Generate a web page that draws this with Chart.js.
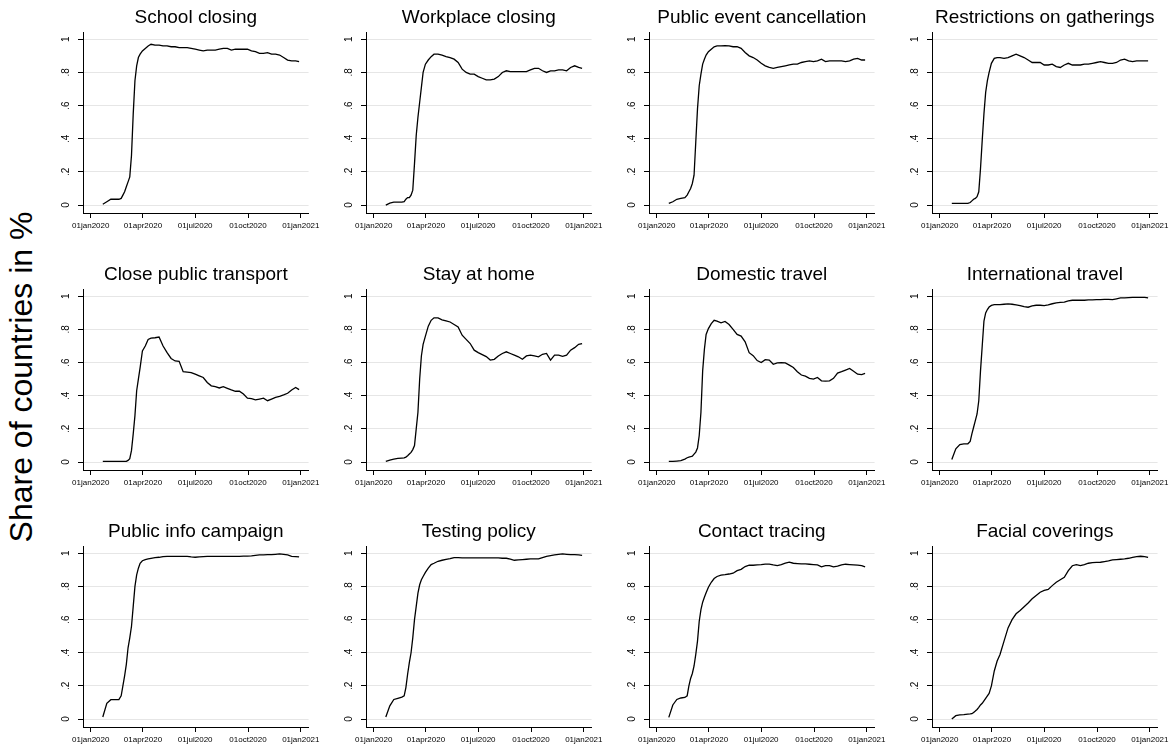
<!DOCTYPE html>
<html>
<head>
<meta charset="utf-8">
<script src="https://cdn.jsdelivr.net/npm/chart.js@4.4.1/dist/chart.umd.min.js"></script>
<style>
  html, body { margin: 0; padding: 0; background: #fff; overflow: hidden; }
  #page { position: relative; width: 1173px; height: 745px; }
  .panel { position: absolute; width: 280px; height: 240px; }
  #ytitle {
    position: absolute; left: 21px; top: 377px;
    transform: translate(-50%, -50%) rotate(-90deg);
    font: 32px "Liberation Sans", Arial, sans-serif; color: #000; white-space: nowrap;
  }
</style>
</head>
<body>
<div id="page">
  <div id="ytitle">Share of countries in %</div>
</div>
<script>
// days since 01jan2020
const days = [21, 28, 35, 42, 49, 53,
  56, 59, 62, 65, 68, 71, 74, 77, 80, 83, 86,
  90, 95, 100, 105, 112, 119, 126, 133, 140,
  147, 154, 161, 168, 175, 182, 189, 196, 203, 210,
  217, 224, 231, 238, 245, 252, 259, 266, 273, 280,
  287, 294, 301, 308, 315, 322, 329, 336, 343, 350, 357, 363];

const xTickDays = [0, 91, 182, 274, 366];
const xTickLabels = ["01jan2020", "01apr2020", "01jul2020", "01oct2020", "01jan2021"];
const yTicks = [0, 0.2, 0.4, 0.6, 0.8, 1];
const yTickLabels = ["0", ".2", ".4", ".6", ".8", "1"];

const titles = [
  "School closing", "Workplace closing", "Public event cancellation", "Restrictions on gatherings",
  "Close public transport", "Stay at home", "Domestic travel", "International travel",
  "Public info campaign", "Testing policy", "Contact tracing", "Facial coverings",
];

const schoolClosing = [0.005, 0.02, 0.035, 0.035, 0.035, 0.04,
  0.06, 0.08, 0.11, 0.14, 0.17, 0.3, 0.55, 0.75, 0.84, 0.89, 0.91,
  0.93, 0.945, 0.96, 0.97, 0.965, 0.965, 0.96, 0.96, 0.955,
  0.955, 0.95, 0.95, 0.95, 0.945, 0.94, 0.935, 0.93, 0.935, 0.935,
  0.935, 0.94, 0.945, 0.945, 0.935, 0.94, 0.94, 0.94, 0.94, 0.93,
  0.925, 0.915, 0.915, 0.92, 0.91, 0.91, 0.905, 0.89, 0.875, 0.87, 0.87, 0.865];

const workplaceClosing = [0.0, 0.012, 0.018, 0.018, 0.018, 0.02,
  0.035, 0.045, 0.045, 0.06, 0.09, 0.25, 0.42, 0.53, 0.62, 0.71, 0.8,
  0.85, 0.875, 0.895, 0.91, 0.91, 0.905, 0.895, 0.89, 0.88,
  0.86, 0.82, 0.8, 0.79, 0.79, 0.775, 0.765, 0.755, 0.755, 0.76,
  0.775, 0.8, 0.81, 0.805, 0.805, 0.805, 0.805, 0.805, 0.815, 0.825,
  0.825, 0.81, 0.8, 0.81, 0.81, 0.815, 0.815, 0.81, 0.83, 0.84, 0.83, 0.825];

const publicEvents = [0.01, 0.02, 0.035, 0.04, 0.045, 0.06,
  0.08, 0.1, 0.13, 0.18, 0.38, 0.58, 0.72, 0.79, 0.85, 0.88, 0.905,
  0.925, 0.94, 0.955, 0.96, 0.96, 0.962, 0.96, 0.955, 0.955,
  0.945, 0.92, 0.9, 0.89, 0.875, 0.855, 0.84, 0.83, 0.825, 0.83,
  0.835, 0.84, 0.845, 0.85, 0.85, 0.86, 0.865, 0.87, 0.865, 0.87,
  0.88, 0.865, 0.87, 0.87, 0.87, 0.87, 0.865, 0.87, 0.88, 0.885, 0.875, 0.875];

const gatherings = [0.01, 0.01, 0.01, 0.01, 0.01, 0.015,
  0.025, 0.035, 0.04, 0.05, 0.08, 0.22, 0.39, 0.55, 0.68, 0.75, 0.8,
  0.855, 0.885, 0.89, 0.89, 0.885, 0.89, 0.9, 0.91, 0.9,
  0.89, 0.875, 0.86, 0.86, 0.86, 0.845, 0.845, 0.85, 0.835, 0.83,
  0.845, 0.855, 0.845, 0.845, 0.845, 0.85, 0.85, 0.855, 0.86, 0.865,
  0.86, 0.855, 0.855, 0.86, 0.875, 0.88, 0.87, 0.865, 0.87, 0.87, 0.87, 0.87];

const publicTransport = [0.004, 0.004, 0.004, 0.004, 0.004, 0.004,
  0.004, 0.004, 0.004, 0.01, 0.02, 0.07, 0.17, 0.28, 0.43, 0.5, 0.57,
  0.67, 0.7, 0.74, 0.748, 0.75, 0.754, 0.7, 0.66, 0.625,
  0.61, 0.608, 0.545, 0.543, 0.54, 0.53, 0.52, 0.51, 0.48, 0.46,
  0.455, 0.447, 0.455, 0.445, 0.435, 0.427, 0.427, 0.41, 0.385, 0.382,
  0.375, 0.38, 0.385, 0.37, 0.38, 0.39, 0.396, 0.405, 0.415, 0.435, 0.45, 0.437];

const stayAtHome = [0.004, 0.012, 0.018, 0.022, 0.024, 0.025,
  0.03, 0.038, 0.048, 0.058, 0.075, 0.1, 0.2, 0.3, 0.5, 0.64, 0.71,
  0.76, 0.82, 0.855, 0.87, 0.87, 0.858, 0.852, 0.845, 0.83,
  0.815, 0.765, 0.74, 0.715, 0.675, 0.66, 0.648, 0.636, 0.615, 0.62,
  0.64, 0.655, 0.665, 0.655, 0.645, 0.635, 0.62, 0.64, 0.645, 0.64,
  0.635, 0.65, 0.655, 0.615, 0.645, 0.645, 0.638, 0.645, 0.675, 0.69, 0.71, 0.715];

const domesticTravel = [0.004, 0.004, 0.006, 0.008, 0.018, 0.026,
  0.03, 0.032, 0.036, 0.048, 0.06, 0.085, 0.16, 0.3, 0.55, 0.68, 0.77,
  0.805, 0.835, 0.855, 0.85, 0.84, 0.848, 0.83, 0.8, 0.77,
  0.76, 0.725, 0.66, 0.642, 0.612, 0.6, 0.618, 0.615, 0.59, 0.598,
  0.6, 0.598, 0.585, 0.57, 0.545, 0.525, 0.518, 0.505, 0.5, 0.51,
  0.49, 0.488, 0.49, 0.505, 0.537, 0.545, 0.555, 0.565, 0.548, 0.53, 0.528, 0.535];

const internationalTravel = [0.015, 0.08, 0.105, 0.11, 0.11, 0.125,
  0.17, 0.21, 0.25, 0.29, 0.37, 0.55, 0.7, 0.85, 0.9, 0.92, 0.935,
  0.945, 0.95, 0.95, 0.95, 0.952, 0.954, 0.952, 0.948, 0.944,
  0.938, 0.934, 0.942, 0.946, 0.946, 0.944, 0.948, 0.955, 0.96, 0.963,
  0.965, 0.972, 0.976, 0.976, 0.976, 0.976, 0.978, 0.978, 0.98, 0.98,
  0.982, 0.982, 0.98, 0.985, 0.99, 0.99, 0.992, 0.994, 0.994, 0.994, 0.994, 0.99];

const infoCampaign = [0.012, 0.095, 0.117, 0.117, 0.117, 0.14,
  0.2, 0.26, 0.33, 0.43, 0.49, 0.56, 0.68, 0.8, 0.87, 0.91, 0.94,
  0.955, 0.962, 0.966, 0.97, 0.974, 0.976, 0.98, 0.982, 0.982,
  0.982, 0.982, 0.982, 0.982, 0.978, 0.976, 0.978, 0.98, 0.982, 0.982,
  0.982, 0.982, 0.982, 0.982, 0.982, 0.982, 0.982, 0.983, 0.983, 0.985,
  0.988, 0.99, 0.99, 0.992, 0.992, 0.994, 0.996, 0.994, 0.99, 0.982, 0.98, 0.978];

const testingPolicy = [0.012, 0.08, 0.118, 0.125, 0.132, 0.14,
  0.19, 0.27, 0.34, 0.4, 0.49, 0.6, 0.68, 0.76, 0.81, 0.84, 0.86,
  0.885, 0.91, 0.932, 0.94, 0.952, 0.958, 0.963, 0.968, 0.974,
  0.974, 0.972, 0.972, 0.972, 0.972, 0.972, 0.972, 0.972, 0.972, 0.972,
  0.972, 0.97, 0.97, 0.965, 0.958, 0.96, 0.962, 0.964, 0.966, 0.966,
  0.966, 0.974, 0.982, 0.986, 0.99, 0.994, 0.996, 0.994, 0.992, 0.992, 0.99, 0.988];

const contactTracing = [0.01, 0.085, 0.118, 0.127, 0.13, 0.14,
  0.2, 0.245, 0.275, 0.32, 0.39, 0.47, 0.59, 0.66, 0.705, 0.735, 0.762,
  0.795, 0.825, 0.848, 0.86, 0.868, 0.871, 0.875, 0.88, 0.895,
  0.903, 0.92, 0.928, 0.928, 0.93, 0.932, 0.935, 0.935, 0.93, 0.926,
  0.932, 0.94, 0.946, 0.94, 0.938, 0.936, 0.936, 0.934, 0.932, 0.93,
  0.918, 0.925, 0.926, 0.918, 0.922, 0.93, 0.934, 0.932, 0.93, 0.928, 0.926, 0.918];

const facialCoverings = [0.0, 0.02, 0.025, 0.027, 0.03, 0.031,
  0.032, 0.04, 0.048, 0.058, 0.07, 0.085, 0.095, 0.11, 0.125, 0.14, 0.155,
  0.2, 0.29, 0.35, 0.39, 0.47, 0.55, 0.6, 0.635, 0.655,
  0.678, 0.7, 0.726, 0.746, 0.765, 0.776, 0.782, 0.805, 0.825, 0.84,
  0.855, 0.895, 0.925, 0.932, 0.926, 0.932, 0.94, 0.944, 0.945, 0.946,
  0.95, 0.954, 0.96, 0.962, 0.964, 0.966, 0.97, 0.976, 0.98, 0.982, 0.98, 0.976];

const series = [
  schoolClosing, workplaceClosing, publicEvents, gatherings,
  publicTransport, stayAtHome, domesticTravel, internationalTravel,
  infoCampaign, testingPolicy, contactTracing, facialCoverings,
];

Chart.defaults.font.family = "'Liberation Sans', Arial, sans-serif";
Chart.defaults.color = "#000";

const page = document.getElementById("page");

series.forEach((values, i) => {
  const col = i % 4;
  const row = Math.floor(i / 4);
  const box = document.createElement("div");
  box.className = "panel";
  box.style.left = (42.7 + col * 283.2) + "px";
  box.style.top = (row * 257.2) + "px";
  const canvas = document.createElement("canvas");
  canvas.width = 280;
  canvas.height = 240;
  box.appendChild(canvas);
  page.appendChild(box);

  new Chart(canvas.getContext("2d"), {
    type: "line",
    data: {
      datasets: [{
        data: days.map((d, k) => ({ x: d, y: values[k] })),
        borderColor: "#000",
        borderWidth: 1.3,
        pointRadius: 0,
        tension: 0,
      }],
    },
    options: {
      responsive: false,
      animation: false,
      events: [],
      layout: { padding: { left: 0, right: 9.5, top: 0, bottom: 0 } },
      plugins: {
        legend: { display: false },
        tooltip: { enabled: false },
        title: {
          display: true,
          text: titles[i],
          fullSize: false,
          color: "#000",
          font: { size: 19, weight: "normal" },
          padding: { top: 6, bottom: 3.2 },
        },
      },
      scales: {
        x: {
          type: "linear",
          min: -13.5,
          max: 379.5,
          afterFit: (scale) => { scale.height = 27; },
          afterBuildTicks: (scale) => { scale.ticks = xTickDays.map((v) => ({ value: v })); },
          ticks: {
            autoSkip: false,
            maxRotation: 0,
            padding: 3,
            font: { size: 8 },
            color: "#000",
            callback: (v) => xTickLabels[xTickDays.indexOf(v)],
          },
          grid: { drawOnChartArea: false, drawTicks: true, tickLength: 5, tickColor: "#000" },
          border: { display: true, color: "#000", width: 1 },
        },
        y: {
          type: "linear",
          min: -0.048,
          max: 1.044,
          afterFit: (scale) => { scale.width = 40; },
          afterBuildTicks: (scale) => { scale.ticks = yTicks.map((v) => ({ value: v })); },
          ticks: {
            autoSkip: false,
            minRotation: 90,
            maxRotation: 90,
            crossAlign: "center",
            padding: 8,
            font: { size: 10 },
            color: "#000",
            callback: (v) => yTickLabels[yTicks.indexOf(v)],
          },
          grid: { color: "#e6e6e6", lineWidth: 1, drawTicks: true, tickLength: 5, tickColor: "#000" },
          border: { display: true, color: "#000", width: 1 },
        },
      },
    },
  });
});
</script>
</body>
</html>
